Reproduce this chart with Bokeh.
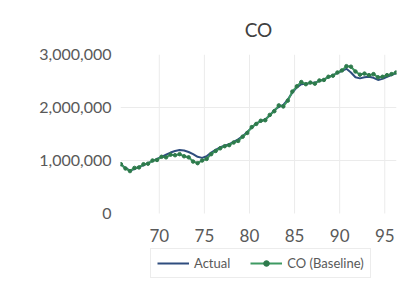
from bokeh.plotting import figure
from bokeh.models import ColumnDataSource, Legend, LegendItem, NumeralTickFormatter, FixedTicker, Range1d
from bokeh.embed import file_html
from bokeh.resources import INLINE

years = [65.75 + 0.5 * i for i in range(62)]
actual = [0.92, 0.86, 0.81, 0.84, 0.88, 0.91, 0.95, 0.99, 1.03, 1.07,
          1.11, 1.15, 1.18, 1.20, 1.19, 1.16, 1.12, 1.07, 1.05, 1.08,
          1.15, 1.20, 1.25, 1.28, 1.31, 1.35, 1.40, 1.46, 1.54, 1.62,
          1.70, 1.74, 1.78, 1.85, 1.95, 2.01, 2.05, 2.15, 2.28, 2.38,
          2.44, 2.45, 2.46, 2.47, 2.50, 2.53, 2.57, 2.61, 2.65, 2.69,
          2.73, 2.66, 2.57, 2.55, 2.57, 2.58, 2.56, 2.52, 2.54, 2.58,
          2.61, 2.65]
baseline = [0.93, 0.85, 0.80, 0.86, 0.87, 0.93, 0.94, 1.00, 1.01, 1.07,
            1.06, 1.11, 1.10, 1.12, 1.08, 1.06, 0.98, 0.95, 1.00, 1.03,
            1.12, 1.18, 1.23, 1.27, 1.29, 1.34, 1.37, 1.45, 1.52, 1.63,
            1.69, 1.75, 1.76, 1.86, 1.93, 2.04, 2.02, 2.13, 2.30, 2.40,
            2.48, 2.44, 2.47, 2.45, 2.51, 2.52, 2.58, 2.60, 2.66, 2.70,
            2.78, 2.77, 2.68, 2.62, 2.64, 2.61, 2.63, 2.57, 2.58, 2.61,
            2.63, 2.66]
x_ticks = [70, 75, 80, 85, 90, 95]
y_ticks = [0, 1000000, 2000000, 3000000]

src = ColumnDataSource(dict(
    x=years,
    actual=[v * 1e6 for v in actual],
    baseline=[v * 1e6 for v in baseline],
))

FONT = "Lato"
LABEL = "#595959"
GRID = "#ebebeb"

p = figure(width=398, height=279, output_backend="svg", toolbar_location=None,
           x_range=Range1d(65.7, 96.3), y_range=Range1d(-1245000, 3000000),
           min_border_left=120, min_border_right=2, min_border_top=54,
           min_border_bottom=0, title="CO")
p.outline_line_color = None
p.title.align = "center"
p.title.vertical_align = "top"
p.title.text_font = FONT
p.title.text_font_size = "19px"
p.title.text_font_style = "normal"
p.title.text_color = "#404040"
p.title.standoff = 23

for ax in (p.xaxis, p.yaxis):
    ax.axis_line_color = None
    ax.major_tick_line_color = None
    ax.minor_tick_line_color = None
    ax.major_label_text_font = FONT
    ax.major_label_text_color = LABEL
p.xaxis.ticker = FixedTicker(ticks=x_ticks)
p.xaxis.fixed_location = y_ticks[0]
p.yaxis.ticker = FixedTicker(ticks=y_ticks)
p.yaxis.formatter = NumeralTickFormatter(format="0,0")
p.xaxis.major_label_text_font_size = "17px"
p.yaxis.major_label_text_font_size = "16px"
p.xaxis.major_label_standoff = 9
p.yaxis.major_label_standoff = 3

p.xgrid.visible = False
p.ygrid.ticker = FixedTicker(ticks=y_ticks[1:])
p.ygrid.grid_line_color = GRID
n = len(x_ticks)
p.segment(x0=x_ticks, y0=[y_ticks[0]] * n, x1=x_ticks, y1=[y_ticks[-1]] * n,
          line_color=GRID, line_width=1, level="underlay")

r_act = p.line("x", "actual", source=src, line_color="#2f4d7e", line_width=2)
r_base = p.line("x", "baseline", source=src, line_color="#3e9a62", line_width=2)
r_mk = p.scatter("x", "baseline", source=src, size=3.5, fill_color="#2e7a4c",
                 line_color="#2e7a4c")

legend = Legend(items=[LegendItem(label="Actual", renderers=[r_act]),
                       LegendItem(label="CO (Baseline)", renderers=[r_base, r_mk])],
                orientation="horizontal", location=(30, 1),
                label_text_font=FONT, label_text_font_size="13px",
                label_text_color=LABEL, glyph_width=32, glyph_height=14,
                label_standoff=5, spacing=20, padding=6, margin=0,
                border_line_color="#d9d9d9", background_fill_alpha=0)
p.add_layout(legend, "center")

open("out.html", "w").write(file_html(p, INLINE))
